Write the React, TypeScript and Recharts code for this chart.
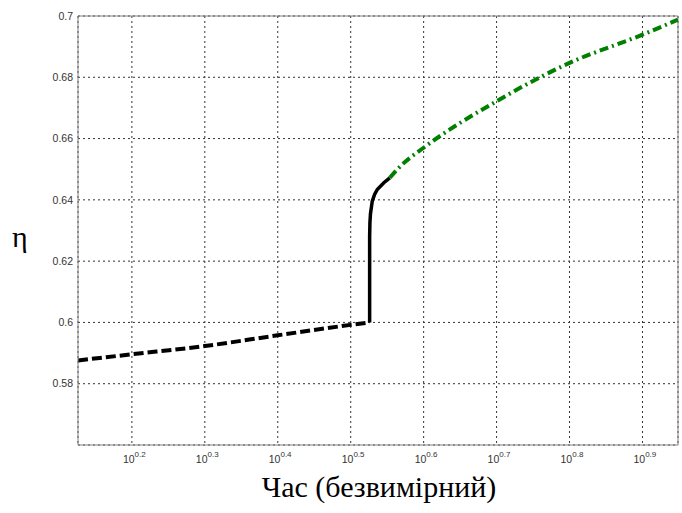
import { LineChart, Line, XAxis, YAxis, CartesianGrid, ReferenceLine } from 'recharts';

// time (dimensionless) vs eta
const xDomain = [1.337, 8.886];
const xTickExponents = [0.2, 0.3, 0.4, 0.5, 0.6, 0.7, 0.8, 0.9];
const yTicks = [0.58, 0.6, 0.62, 0.64, 0.66, 0.68, 0.7];

// first stage (black dashed)
const stage1T = [1.337, 1.585, 1.995, 2.512, 3.162, 3.357];
const stage1Eta = [0.5876, 0.5896, 0.5923, 0.5958, 0.5992, 0.6];

// jump (black solid)
const jumpT = [3.357, 3.357, 3.36, 3.366, 3.385, 3.41, 3.439, 3.511, 3.578];
const jumpEta = [0.6, 0.628, 0.6325, 0.6355, 0.6396, 0.6418, 0.6434, 0.6456, 0.6472];

// second stage (green dash-dot)
const stage2T = [3.578, 3.7, 3.981, 5.012, 6.31, 7.943, 8.886];
const stage2Eta = [0.6472, 0.651, 0.657, 0.6722, 0.6847, 0.6939, 0.6988];

const zip = (t: number[], eta: number[]) => t.map((v, i) => ({ t: v, eta: eta[i] }));

const stage1 = zip(stage1T, stage1Eta);
const jump = zip(jumpT, jumpEta);
const stage2 = zip(stage2T, stage2Eta);

const xTicks = xTickExponents.map((e) => Math.pow(10, e));

const PowerTick = (props: any) => {
  const { x, y, payload } = props;
  const exp = Math.log10(payload.value).toFixed(1);
  return (
    <text x={x - 9} y={y + 16} fontSize={10.5} fontFamily="Arial, 'Liberation Sans'" fill="#333">
      <tspan>10</tspan>
      <tspan fontSize={8} dy={-6}>{exp}</tspan>
    </text>
  );
};

export default function App() {
  return (
    <div style={{ position: 'absolute', left: 0, top: 0, width: 682, height: 513, background: '#fff' }}>
      <LineChart width={682} height={513} margin={{ top: 16, right: 4, bottom: 0, left: 18 }}>
        <CartesianGrid stroke="#333" strokeDasharray="2 3" />
        <XAxis
          dataKey="t"
          type="number"
          scale="log"
          domain={xDomain}
          allowDataOverflow
          ticks={xTicks}
          tick={<PowerTick />}
          tickSize={0}
          height={68}
          axisLine={{ stroke: '#808080' }}
          tickLine={false}
          interval={0}
        />
        <YAxis
          type="number"
          domain={[0.56, 0.7]}
          ticks={yTicks}
          width={60}
          tickSize={0}
          tickMargin={5}
          interval={0}
          axisLine={{ stroke: '#808080' }}
          tickLine={false}
          tick={{ fontSize: 10.5, fill: '#333', fontFamily: "Arial, 'Liberation Sans'" }}
          tickFormatter={(v: number) => String(v)}
        />
        <ReferenceLine y={0.7} stroke="#808080" strokeWidth={1} />
        <ReferenceLine x={xDomain[1]} stroke="#808080" strokeWidth={1} />
        <Line
          data={stage1}
          dataKey="eta"
          type="monotone"
          stroke="#000"
          strokeWidth={4}
          strokeDasharray="10 4"
          dot={false}
          isAnimationActive={false}
        />
        <Line
          data={jump}
          dataKey="eta"
          type="linear"
          stroke="#000"
          strokeWidth={3.5}
          dot={false}
          isAnimationActive={false}
        />
        <Line
          data={stage2}
          dataKey="eta"
          type="monotone"
          stroke="#008000"
          strokeWidth={4}
          strokeDasharray="9 4 2 4"
          dot={false}
          isAnimationActive={false}
        />
      </LineChart>
      <div style={{ position: 'absolute', left: 12, top: 220, fontFamily: "'Times New Roman', 'Liberation Serif', serif", fontSize: 30 }}>
        η
      </div>
      <div style={{ position: 'absolute', left: 0, width: 758, top: 470, textAlign: 'center', fontFamily: "'Times New Roman', 'Liberation Serif', serif", fontSize: 30 }}>
        Час (безвимірний)
      </div>
    </div>
  );
}
